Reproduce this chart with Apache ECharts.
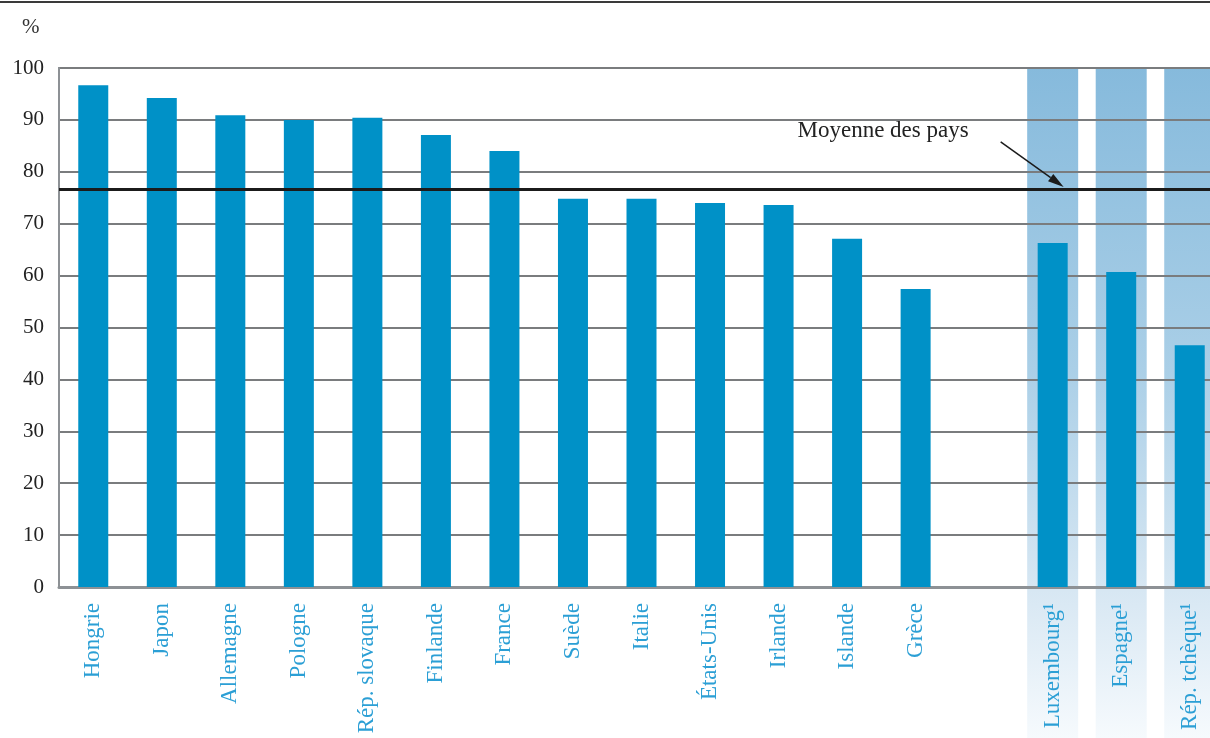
<!DOCTYPE html>
<html>
<head>
<meta charset="utf-8">
<script src="https://cdn.jsdelivr.net/npm/echarts@6/dist/echarts.min.js"></script>
<style>
  html, body { margin: 0; padding: 0; background: #fff; }
  #chart { width: 1210px; height: 738px; }
</style>
</head>
<body>
<div id="chart"></div>
<script>
// Countries (empty slot separates the footnoted group)
const countries = ['Hongrie', 'Japon', 'Allemagne', 'Pologne', 'Rép. slovaque', 'Finlande', 'France',
  'Suède', 'Italie', 'États-Unis', 'Irlande', 'Islande', 'Grèce', '',
  'Luxembourg¹', 'Espagne¹', 'Rép. tchèque¹'];
// Share in %
const values = [96.7, 94.2, 90.9, 90.0, 90.4, 87.1, 84.0,
  74.8, 74.8, 74.0, 73.6, 67.1, 57.4, null,
  66.3, 60.7, 46.6];
// Countries flagged with footnote 1 (highlighted columns)
const highlighted = ['Luxembourg¹', 'Espagne¹', 'Rép. tchèque¹'];
// Country average
const average = 76.7;
const averageLabel = 'Moyenne des pays';
const yTicks = [0, 10, 20, 30, 40, 50, 60, 70, 80, 90, 100];

const serif = '"Liberation Serif", "DejaVu Serif", serif';
const bandData = countries.map(c => highlighted.includes(c) ? 1 : null);

const chart = echarts.init(document.getElementById('chart'), null, { renderer: 'canvas' });

// the plot runs past the right edge of the page, the last column is cut
const gridLeft = 59, gridWidth = 1165;

chart.setOption({
  animation: false,
  backgroundColor: '#ffffff',
  title: {
    text: '%', left: 17, top: 12,
    textStyle: { fontFamily: serif, fontSize: 21, fontWeight: 'normal', color: '#333' }
  },
  grid: [
    { left: gridLeft, width: gridWidth, top: 68, bottom: 151, outerBoundsMode: 'none', containLabel: false,
      show: true, borderColor: '#8d9195', borderWidth: 2, backgroundColor: 'transparent' },
    { left: gridLeft, width: gridWidth, top: 68, bottom: 0, outerBoundsMode: 'none', containLabel: false, show: false }
  ],
  xAxis: [
    {
      type: 'category', gridIndex: 0, data: countries,
      axisLine: { show: true, lineStyle: { color: '#8d9195', width: 3 } },
      axisTick: { show: false },
      axisLabel: {
        rotate: 90, margin: 16, interval: 0, hideOverlap: false,
        fontFamily: serif, fontSize: 23, color: '#2b9fd5'
      }
    },
    {
      type: 'category', gridIndex: 1, data: countries,
      show: false
    }
  ],
  yAxis: [
    {
      type: 'value', gridIndex: 0, min: 0, max: 100, interval: 10,
      axisLine: { show: true, lineStyle: { color: '#8d9195', width: 2 } },
      axisTick: { show: false },
      axisLabel: {
        margin: 15, fontFamily: serif, fontSize: 21, color: '#222',
        formatter: v => yTicks.includes(v) ? String(v) : ''
      },
      splitLine: { show: true, lineStyle: { color: '#7a7c7e', width: 2 } }
    },
    { type: 'value', gridIndex: 1, min: 0, max: 1, show: false }
  ],
  series: [
    {
      name: 'bande',
      type: 'bar', xAxisIndex: 1, yAxisIndex: 1,
      data: bandData, barWidth: 51, z: -1, silent: true,
      itemStyle: {
        color: new echarts.graphic.LinearGradient(0, 0, 0, 1, [
          { offset: 0, color: '#86badc' },
          { offset: 0.45, color: '#aacfe7' },
          { offset: 0.78, color: '#d7e7f3' },
          { offset: 1, color: '#f6fafd' }
        ])
      }
    },
    {
      name: 'pays',
      type: 'bar', xAxisIndex: 0, yAxisIndex: 0,
      data: values, barWidth: 30,
      itemStyle: { color: '#0091c7' },
      markLine: {
        silent: true, symbol: 'none',
        label: { show: false },
        lineStyle: { color: '#1b1b1b', width: 3, type: 'solid' },
        data: [{ yAxis: average }]
      }
    }
  ]
});

// Annotation arrow pointing at the average line near the first highlighted column
const yAvg = chart.convertToPixel({ yAxisIndex: 0 }, average);
const xLux = chart.convertToPixel({ xAxisIndex: 0 }, highlighted[0]);
const tip = [xLux + 11, yAvg - 2];
const tail = [tip[0] - 63, tip[1] - 45];
const dx = tip[0] - tail[0], dy = tip[1] - tail[1];
const len = Math.hypot(dx, dy);
const ux = dx / len, uy = dy / len;
const headLen = 16, headHalf = 4.5;
const base = [tip[0] - ux * headLen, tip[1] - uy * headLen];
const perp = [-uy * headHalf, ux * headHalf];

chart.setOption({
  graphic: [
    {
      type: 'line', silent: true,
      shape: { x1: 0, y1: 2, x2: 1210, y2: 2 },
      style: { stroke: '#3a3a3a', lineWidth: 2 }
    },
    {
      type: 'line', silent: true, z: 10,
      shape: { x1: tail[0], y1: tail[1], x2: base[0], y2: base[1] },
      style: { stroke: '#1b1b1b', lineWidth: 1.5 }
    },
    {
      type: 'polygon', silent: true, z: 10,
      shape: { points: [tip, [base[0] + perp[0], base[1] + perp[1]], [base[0] - perp[0], base[1] - perp[1]]] },
      style: { fill: '#1b1b1b' }
    },
    {
      type: 'text', silent: true, z: 10,
      x: tail[0] - 32, y: tail[1] + 1,
      style: {
        text: averageLabel, fill: '#222', font: '23px ' + serif,
        textAlign: 'right', textVerticalAlign: 'bottom'
      }
    }
  ]
});
</script>
</body>
</html>
